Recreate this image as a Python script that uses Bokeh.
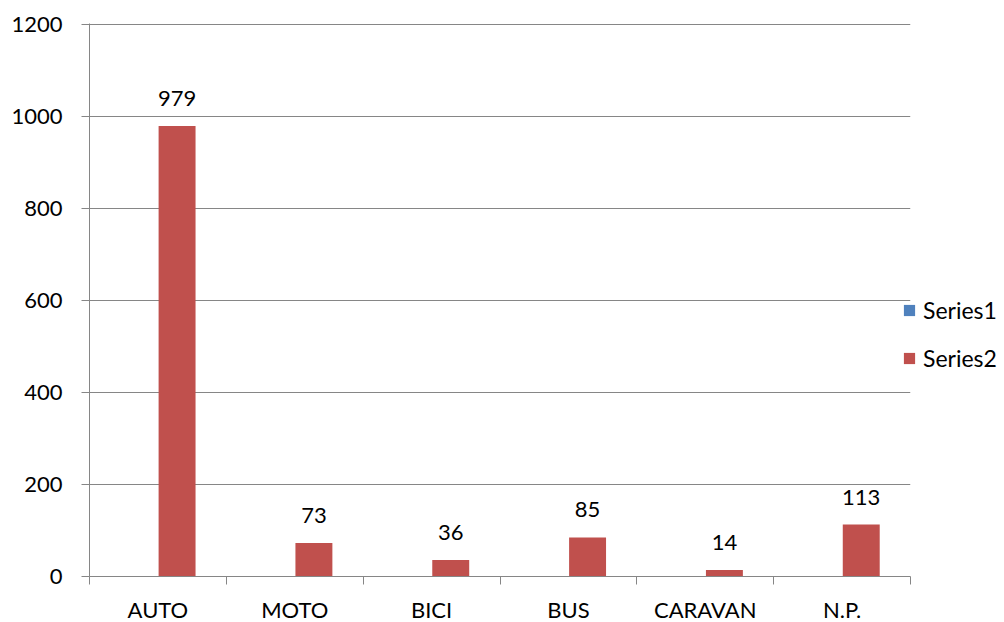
import numpy as np
from bokeh.plotting import figure
from bokeh.models import ColumnDataSource, FixedTicker, LabelSet, Legend, LegendItem
from bokeh.transform import dodge
from bokeh.core.properties import value
from bokeh.embed import file_html
from bokeh.resources import INLINE

categories = ["AUTO", "MOTO", "BICI", "BUS", "CARAVAN", "N.P."]
series1 = [0, 0, 0, 0, 0, 0]
series2 = [979, 73, 36, 85, 14, 113]
y_ticks = [0, 200, 400, 600, 800, 1000, 1200]

FONT = "Lato"
FS = "22px"
GRID = "#868686"

idx = np.arange(len(categories))
src = ColumnDataSource(dict(
    x=idx, cat=categories, s1=series1, s2=series2,
    lbl=[str(v) for v in series2],
))

p = figure(frame_width=821, frame_height=553, output_backend="svg", toolbar_location=None,
           x_range=(0, len(categories)), y_range=(0, 1202),
           min_border_left=89, min_border_top=23, min_border_right=0,
           min_border_bottom=0)
p.outline_line_color = None
p.background_fill_color = "white"
p.border_fill_color = "white"

r1 = p.vbar(x=dodge("x", 0.36, range=p.x_range), top="s1", bottom=0, width=0.27,
            source=src, fill_color="#4F81BD", line_color=None)
r2 = p.vbar(x=dodge("x", 0.64, range=p.x_range), top="s2", bottom=0, width=0.27,
            source=src, fill_color="#C0504D", line_color=None)

labels = LabelSet(x=dodge("x", 0.64, range=p.x_range), y="s2", text="lbl", source=src,
                  y_offset=20, text_align="center", text_baseline="alphabetic",
                  text_font=value(FONT), text_font_size=value(FS), text_color="#000000")
p.add_layout(labels)

# y axis
p.yaxis.ticker = FixedTicker(ticks=y_ticks)
p.yaxis.axis_line_color = GRID
p.yaxis.major_tick_line_color = GRID
p.yaxis.major_tick_out = 8
p.yaxis.major_tick_in = 0
p.yaxis.minor_tick_line_color = None
p.yaxis.major_label_standoff = 19
p.yaxis.major_label_text_font = FONT
p.yaxis.major_label_text_font_size = FS
p.yaxis.major_label_text_color = "#000000"

# x axis: labels at category centres, tick marks at category boundaries
centers = [float(i) + 0.5 for i in idx]
p.xaxis.ticker = FixedTicker(ticks=centers, minor_ticks=[float(i) for i in range(len(categories) + 1)])
p.xaxis.major_label_overrides = {c: name for c, name in zip(centers, categories)}
p.xaxis.axis_line_color = GRID
p.xaxis.major_tick_line_color = None
p.xaxis.minor_tick_line_color = GRID
p.xaxis.minor_tick_out = 8
p.xaxis.minor_tick_in = 0
p.xaxis.major_label_standoff = 11
p.xaxis.major_label_text_font = FONT
p.xaxis.major_label_text_font_size = FS
p.xaxis.major_label_text_color = "#000000"

p.xgrid.grid_line_color = None
p.ygrid.ticker = FixedTicker(ticks=y_ticks)
p.ygrid.grid_line_color = GRID

legend = Legend(items=[LegendItem(label="Series1", renderers=[r1]),
                       LegendItem(label="Series2", renderers=[r2])],
                location=(-8, 204), orientation="vertical",
                glyph_width=14, glyph_height=14, label_standoff=7, spacing=20,
                padding=0, margin=0, border_line_color=None,
                background_fill_alpha=0,
                label_text_font=FONT, label_text_font_size="23px", label_text_color="#000000")
p.add_layout(legend, "right")

open("out.html", "w").write(file_html(p, INLINE))
